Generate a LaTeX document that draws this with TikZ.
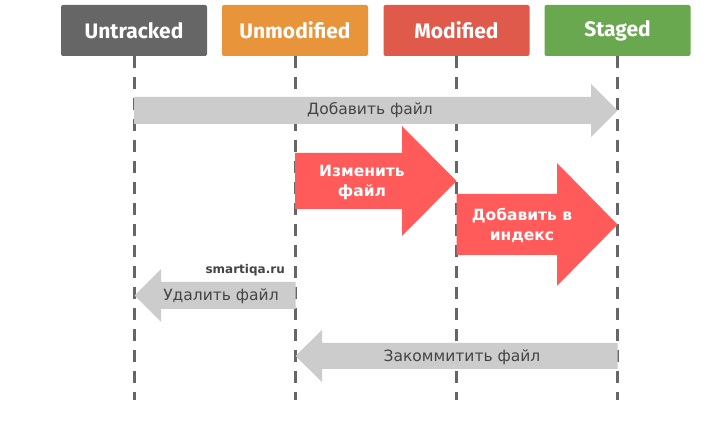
\documentclass[tikz,border=0pt]{standalone}
\usepackage{fontspec}
\setmainfont{DejaVu Sans}
\newfontfamily\headfont{Fira Sans}
\definecolor{cUntr}{HTML}{666666}
\definecolor{cUnmod}{HTML}{E8943A}
\definecolor{cMod}{HTML}{E05A4C}
\definecolor{cStaged}{HTML}{6AA84F}
\definecolor{cGrayArrow}{HTML}{CCCCCC}
\definecolor{cRedArrow}{HTML}{FF5B5A}
\definecolor{cText}{HTML}{444444}
\begin{document}
\begin{tikzpicture}[x=1pt,y=-1pt,
  headbox/.style={minimum width=146pt,minimum height=51pt,rounded corners=2pt,text=white,font=\headfont\bfseries\fontsize{21}{24}\selectfont,inner sep=0pt},
  lane/.style={draw=cUntr,line width=3pt,dash pattern=on 12pt off 9pt},
  grayarrow/.style={fill=cGrayArrow},
  redarrow/.style={fill=cRedArrow},
  graylabel/.style={text=cText,font=\fontsize{15.5}{18}\selectfont,inner sep=0pt},
  redlabel/.style={text=white,font=\bfseries\fontsize{15.5}{20}\selectfont,align=center,inner sep=0pt}
]
\useasboundingbox (0,0) rectangle (713,422);
\fill[white] (0,0) rectangle (713,422);
% headers
\node[headbox,fill=cUntr] (untracked) at (134,30.5) {Untracked};
\node[headbox,fill=cUnmod] (unmodified) at (295,30.5) {Unmodified};
\node[headbox,fill=cMod] (modified) at (456.5,30.5) {Modified};
\node[headbox,fill=cStaged] (staged) at (617.5,30.5) {Staged};
% lanes
\coordinate (bottom) at (0,400);
\draw[lane] (untracked.south) -- (untracked.south |- bottom);
\draw[lane] (unmodified.south) -- (unmodified.south |- bottom);
\draw[lane] (modified.south) -- (modified.south |- bottom);
\draw[lane] (staged.south) -- (staged.south |- bottom);
% Добавить файл
\fill[grayarrow] (134,97) -- (591,97) -- (591,84) -- (617.5,110.5) -- (591,137) -- (591,124) -- (134,124) -- cycle;
\node[graylabel] (addfile) at (370,110.5) {Добавить файл};
% Изменить файл
\fill[redarrow] (295,153) -- (402,153) -- (402,126) -- (456.5,181) -- (402,236) -- (402,209) -- (295,209) -- cycle;
\node[redlabel] (change) at (362,182) {Изменить\\файл};
% Добавить в индекс
\fill[redarrow] (456.5,194) -- (557,194) -- (557,163) -- (617.5,224.5) -- (557,286) -- (557,255) -- (456.5,255) -- cycle;
\node[redlabel] (index) at (522,225) {Добавить в\\индекс};
% Удалить файл
\fill[grayarrow] (295.5,282) -- (161,282) -- (161,269) -- (134.5,295.5) -- (161,322) -- (161,309) -- (295.5,309) -- cycle;
\node[graylabel] (remove) at (221,296) {Удалить файл};
\node[anchor=east,text=cText,font=\bfseries\fontsize{12}{14}\selectfont,inner sep=0pt] (site) at (285,270) {smartiqa.ru};
% Закоммитить файл
\fill[grayarrow] (617.5,343) -- (322,343) -- (322,330) -- (295.5,356) -- (322,382) -- (322,369) -- (617.5,369) -- cycle;
\node[graylabel] (commit) at (462,357) {Закоммитить файл};
\end{tikzpicture}
\end{document}
